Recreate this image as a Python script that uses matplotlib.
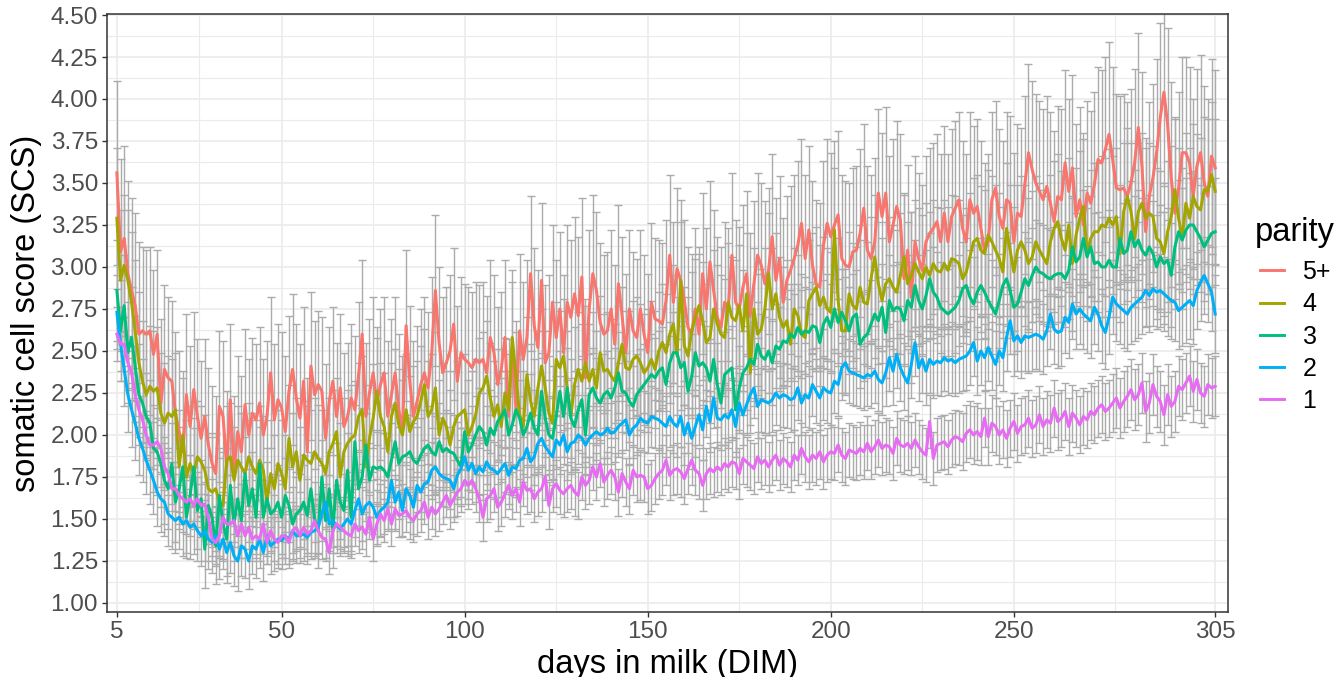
import numpy as np
import matplotlib
matplotlib.use("Agg")
import matplotlib.pyplot as plt
from matplotlib.lines import Line2D

plt.rcParams["font.family"] = ["Liberation Sans", "DejaVu Sans"]

# ---- data (one mean per day, DIM 5..305) ----
days = np.arange(5, 306)
parity = ["5+", "4", "3", "2", "1"]
colors = ["#F8766D", "#A3A500", "#00BF7D", "#00B0F6", "#E76BF3"]

scs_5plus = [
    3.56, 3.09, 3.17, 2.96, 2.86, 2.77, 2.60, 2.62, 2.60, 2.62,
    2.48, 2.60, 2.19, 2.39, 2.34, 2.32, 2.13, 2.02, 1.90, 2.24,
    2.05, 2.27, 2.11, 1.98, 2.11, 1.94, 1.83, 1.77, 2.17, 2.11,
    1.81, 2.21, 1.78, 2.02, 1.90, 2.18, 2.00, 2.13, 2.09, 2.19,
    2.00, 2.11, 2.37, 2.09, 2.21, 2.16, 2.02, 2.26, 2.39, 2.22,
    2.10, 2.32, 1.90, 2.41, 2.24, 2.30, 2.26, 1.98, 2.20, 2.32,
    2.11, 2.28, 2.05, 2.11, 2.22, 2.15, 2.35, 2.60, 2.11, 2.25,
    2.37, 2.19, 2.30, 2.37, 2.11, 2.24, 2.37, 2.15, 2.02, 2.65,
    2.32, 2.11, 2.20, 2.30, 2.37, 2.28, 2.49, 2.86, 2.55, 2.37,
    2.43, 2.50, 2.66, 2.32, 2.49, 2.45, 2.43, 2.40, 2.45, 2.43,
    2.45, 2.37, 2.58, 2.49, 2.30, 2.39, 2.58, 2.11, 2.52, 2.15,
    2.62, 2.45, 2.58, 2.96, 2.65, 2.52, 2.92, 2.43, 2.49, 2.79,
    2.58, 2.75, 2.49, 2.79, 2.70, 2.84, 2.71, 2.94, 2.34, 2.75,
    2.96, 2.86, 2.67, 2.60, 2.62, 2.75, 2.54, 2.90, 2.71, 2.49,
    2.75, 2.62, 2.58, 2.75, 2.60, 2.49, 2.79, 2.69, 2.68, 2.66,
    2.80, 3.07, 2.79,
    2.99, 2.92, 2.80, 2.64, 2.60, 2.75, 2.60, 2.96, 2.75, 3.03,
    2.86, 2.70, 2.64, 2.79, 2.75, 3.07, 2.79, 2.75, 2.88, 2.96,
    2.71, 2.90, 3.07, 3.01, 2.90, 2.98, 3.18, 2.92, 3.05, 2.79,
    2.92, 2.98, 3.05, 3.13, 3.26, 3.05, 3.22, 3.01, 2.90, 2.88,
    3.13, 3.26, 3.18, 3.25, 3.31, 3.05, 3.01, 3.00, 3.09, 3.10,
    3.20, 3.35,
    3.10, 3.05, 3.15, 3.44, 3.30, 3.44, 3.15, 3.25, 3.36, 3.28,
    2.93, 3.10, 2.82, 3.15, 3.05, 2.98, 3.15, 3.20, 3.23, 3.27,
    3.15, 3.32, 3.15, 3.30, 3.35, 3.40, 3.23, 3.15, 3.40, 3.32,
    3.36, 3.23, 3.10, 3.15, 3.40, 3.47, 3.30, 3.23, 3.40, 3.38,
    3.15, 3.32, 3.30, 3.49, 3.68, 3.58, 3.50, 3.45, 3.40, 3.48,
    3.38, 3.27, 3.42,
    3.40, 3.62, 3.45, 3.59, 3.30, 3.40, 3.25, 3.44, 3.38, 3.49,
    3.64, 3.62, 3.70, 3.79, 3.64, 3.47, 3.46, 3.47, 3.42, 3.50,
    3.62, 3.83, 3.60, 3.21, 3.42, 3.53, 3.68, 3.89, 4.04, 3.85,
    3.53, 3.32, 3.47, 3.68, 3.68, 3.62, 3.42, 3.60, 3.68, 3.50,
    3.42, 3.66, 3.59,
]

scs_4 = [
    3.29, 2.92, 3.01, 2.92, 2.79, 2.62, 2.43, 2.32, 2.24, 2.29,
    2.26, 2.28, 2.13, 2.07, 2.13, 2.11, 2.15, 1.81, 2.00, 1.75,
    1.83, 1.77, 1.87, 1.84, 1.79, 1.68, 1.66, 1.68, 1.60, 1.58,
    1.85, 1.87, 1.73, 1.85, 1.81, 1.77, 1.87, 1.81, 1.77, 1.85,
    1.79, 1.60, 1.77, 1.68, 1.83, 1.77, 1.68, 1.98, 1.81, 1.90,
    1.73, 1.88, 1.85, 1.83, 1.90, 1.86, 1.83, 1.77, 1.90, 1.95,
    2.02, 1.75, 1.90, 1.95, 1.98, 2.00, 2.11, 2.15, 1.81, 1.98,
    2.10, 2.26, 2.11, 2.05, 1.90, 2.11, 2.19, 2.06, 2.00, 2.15,
    2.02, 2.08, 2.11, 2.20, 2.30, 2.11, 2.15, 2.28, 2.00, 2.10,
    2.05, 1.94, 2.05, 2.11, 2.13, 2.15, 2.00, 2.05, 2.12, 2.25,
    2.28, 2.35, 2.22, 2.11, 2.18, 2.05, 2.25, 2.15, 2.58, 2.35,
    2.12, 2.05, 2.36, 2.20, 2.11, 2.28, 2.41, 2.28, 2.13, 2.07,
    2.45, 2.40, 2.47, 2.28, 2.11, 2.30, 2.39, 2.32, 2.43, 2.32,
    2.39, 2.28, 2.49, 2.38, 2.39, 2.35, 2.32, 2.43, 2.54, 2.40,
    2.39, 2.45, 2.47, 2.43, 2.37, 2.40, 2.45, 2.39, 2.50, 2.55,
    2.49, 2.60, 2.66,
    2.47, 2.92, 2.53, 2.47, 2.62, 2.70, 2.77, 2.68, 2.55, 2.58,
    2.75, 2.66, 2.60, 2.58, 2.79, 2.70, 2.68, 2.77, 2.62, 2.84,
    2.37, 2.75, 2.60, 2.63, 2.75, 2.96, 2.75, 2.84, 2.70, 2.64,
    2.68, 2.54, 2.75, 2.71, 2.60, 2.58, 2.80, 2.84, 2.88, 2.77,
    2.82, 2.75, 2.73, 3.22, 2.80, 2.62, 2.62, 2.84, 2.77, 2.75,
    2.88, 2.79,
    2.78, 2.93, 3.06, 2.90, 2.80, 2.90, 2.93, 2.88, 2.85, 2.95,
    3.06, 2.90, 2.95, 3.02, 2.97, 2.93, 3.00, 2.95, 3.02, 2.98,
    2.97, 3.02, 2.98, 3.05, 3.04, 3.02, 2.93, 2.97, 3.06, 3.15,
    3.17, 3.10, 3.08, 3.19, 3.15, 3.10, 3.05, 2.97, 3.23, 3.10,
    2.97, 3.10, 3.15, 3.10, 3.02, 3.06, 3.15, 3.10, 3.06, 3.02,
    3.15, 3.23, 3.27,
    3.17, 3.10, 3.25, 3.02, 3.19, 3.29, 3.36, 3.08, 3.17, 3.21,
    3.21, 3.25, 3.24, 3.29, 3.25, 3.30, 3.08, 3.33, 3.42, 3.33,
    3.17, 3.33, 3.38, 3.29, 3.32, 3.30, 3.17, 3.15, 3.08, 3.21,
    3.30, 3.46, 3.29, 3.17, 3.38, 3.29, 3.42, 3.36, 3.34, 3.46,
    3.45, 3.55, 3.45,
]

scs_3 = [
    2.86, 2.62, 2.77, 2.49, 2.58, 2.41, 2.24, 2.19, 2.11, 2.07,
    1.92, 1.90, 1.83, 1.73, 1.68, 1.83, 1.60, 1.68, 1.81, 1.51,
    1.64, 1.81, 1.55, 1.62, 1.32, 1.58, 1.51, 1.34, 1.64, 1.47,
    1.38, 1.70, 1.47, 1.62, 1.49, 1.77, 1.58, 1.68, 1.51, 1.83,
    1.51, 1.62, 1.53, 1.55, 1.60, 1.51, 1.64, 1.58, 1.47, 1.53,
    1.55, 1.60, 1.52, 1.68, 1.50, 1.43, 1.75, 1.49, 1.68, 1.43,
    1.73, 1.60, 1.55, 1.79, 1.51, 1.96, 1.68, 1.75, 1.94, 1.73,
    1.81, 1.80, 1.81, 1.79, 1.75, 1.85, 1.96, 1.83, 1.87, 1.88,
    1.90, 1.85, 1.83, 1.88, 1.92, 1.94, 1.90, 1.88, 1.96, 1.90,
    1.92, 1.90, 1.89, 1.85, 1.81, 2.02, 1.90, 1.94, 2.00, 2.05,
    2.02, 1.94, 2.04, 2.00, 2.08, 2.11, 2.15, 2.00, 2.06, 2.15,
    2.10, 2.00, 2.05, 2.13, 2.04, 2.00, 2.26, 2.10, 2.00, 1.98,
    2.11, 2.26, 2.11, 2.28, 2.10, 2.05, 2.15, 2.21, 2.00, 2.24,
    2.28, 2.22, 2.19, 2.24, 2.26, 2.22, 2.28, 2.37, 2.26, 2.25,
    2.20, 2.17, 2.24, 2.27, 2.30, 2.33, 2.36, 2.34, 2.38, 2.40,
    2.30, 2.43, 2.49,
    2.49, 2.40, 2.43, 2.26, 2.35, 2.49, 2.41, 2.43, 2.40, 2.32,
    2.45, 2.30, 2.19, 2.36, 2.38, 2.40, 2.15, 2.28, 2.37, 2.40,
    2.45, 2.42, 2.54, 2.47, 2.45, 2.50, 2.43, 2.53, 2.51, 2.56,
    2.55, 2.60, 2.58, 2.64, 2.60, 2.62, 2.61, 2.65, 2.64, 2.55,
    2.66, 2.70, 2.64, 2.75, 2.67, 2.73, 2.68, 2.62, 2.70, 2.72,
    2.54, 2.58,
    2.60, 2.66, 2.72, 2.68, 2.76, 2.61, 2.80, 2.74, 2.76, 2.75,
    2.68, 2.80, 2.76, 2.89, 2.80, 2.75, 2.83, 2.93, 2.85, 2.82,
    2.76, 2.74, 2.72, 2.74, 2.76, 2.80, 2.87, 2.89, 2.82, 2.78,
    2.85, 2.89, 2.85, 2.80, 2.76, 2.72, 2.80, 2.89, 2.93, 2.86,
    2.76, 2.78, 2.85, 2.93, 2.89, 2.95, 3.00, 2.97, 2.96, 2.94,
    2.93, 2.95, 2.96,
    2.96, 2.93, 2.98, 3.12, 3.03, 3.06, 3.17, 3.06, 3.12, 3.02,
    3.03, 3.00, 3.00, 3.04, 3.00, 3.00, 3.17, 3.08, 3.10, 3.21,
    3.12, 3.16, 3.10, 3.07, 3.12, 3.08, 3.00, 3.06, 3.02, 3.04,
    2.95, 3.12, 3.21, 3.16, 3.22, 3.25, 3.25, 3.21, 3.17, 3.12,
    3.16, 3.20, 3.21,
]

scs_2 = [
    2.73, 2.54, 2.39, 2.24, 2.15, 2.07, 1.98, 1.92, 1.85, 1.79,
    1.73, 1.66, 1.62, 1.60, 1.53, 1.51, 1.49, 1.51, 1.47, 1.49,
    1.45, 1.47, 1.43, 1.40, 1.43, 1.38, 1.36, 1.40, 1.32, 1.38,
    1.30, 1.36, 1.28, 1.25, 1.34, 1.32, 1.25, 1.34, 1.32, 1.38,
    1.30, 1.40, 1.34, 1.36, 1.38, 1.37, 1.40, 1.38, 1.43, 1.40,
    1.40, 1.41, 1.39, 1.42, 1.43, 1.45, 1.53, 1.60, 1.47, 1.49,
    1.46, 1.44, 1.47, 1.50, 1.47, 1.55, 1.62, 1.53, 1.58, 1.60,
    1.57, 1.51, 1.55, 1.57, 1.60, 1.73, 1.60, 1.66, 1.55, 1.68,
    1.64, 1.57, 1.70, 1.66, 1.71, 1.72, 1.79, 1.81, 1.77, 1.75,
    1.74, 1.73, 1.68, 1.76, 1.80, 1.87, 1.79, 1.83, 1.77, 1.81,
    1.78, 1.84, 1.80, 1.79, 1.77, 1.80, 1.83, 1.76, 1.81, 1.80,
    1.85, 1.86, 1.92, 1.84, 1.87, 1.95, 1.98, 1.93, 1.90, 1.87,
    1.97, 1.94, 2.00, 1.90, 1.95, 1.96, 2.00, 1.98, 1.94, 1.98,
    2.00, 2.02, 2.00, 2.01, 2.04, 2.01, 2.02, 2.05, 2.07, 2.09,
    2.00, 2.04, 2.06, 2.10, 2.08, 2.07, 2.11, 2.10, 2.09, 2.07,
    2.05, 2.11, 2.07,
    2.05, 2.11, 2.00, 2.07, 1.98, 2.05, 2.12, 2.03, 2.17, 2.08,
    2.22, 2.10, 2.09, 2.12, 2.10, 2.15, 2.05, 2.19, 2.12, 2.18,
    2.24, 2.28, 2.17, 2.21, 2.20, 2.19, 2.21, 2.25, 2.22, 2.24,
    2.23, 2.21, 2.22, 2.28, 2.19, 2.24, 2.22, 2.30, 2.26, 2.22,
    2.28, 2.26, 2.25, 2.32, 2.30, 2.40, 2.43, 2.38, 2.37, 2.36,
    2.35, 2.34,
    2.36, 2.35, 2.38, 2.33, 2.31, 2.37, 2.46, 2.38, 2.48, 2.40,
    2.35, 2.31, 2.42, 2.55, 2.40, 2.45, 2.38, 2.45, 2.42, 2.44,
    2.43, 2.46, 2.44, 2.45, 2.43, 2.45, 2.46, 2.47, 2.50, 2.55,
    2.44, 2.50, 2.46, 2.52, 2.47, 2.42, 2.50, 2.46, 2.58, 2.68,
    2.56, 2.59, 2.55, 2.59, 2.58, 2.59, 2.60, 2.59, 2.57, 2.62,
    2.72, 2.63, 2.61,
    2.62, 2.70, 2.67, 2.78, 2.72, 2.75, 2.72, 2.70, 2.68, 2.76,
    2.72, 2.65, 2.61, 2.70, 2.82, 2.78, 2.76, 2.74, 2.72, 2.76,
    2.78, 2.80, 2.82, 2.86, 2.83, 2.87, 2.85, 2.86, 2.84, 2.82,
    2.80, 2.79, 2.74, 2.76, 2.78, 2.80, 2.77, 2.86, 2.91, 2.95,
    2.90, 2.85, 2.72,
]

scs_1 = [
    2.60, 2.54, 2.54, 2.43, 2.37, 2.24, 2.15, 2.09, 2.00, 1.94,
    1.94, 1.96, 1.92, 1.81, 1.77, 1.68, 1.68, 1.64, 1.62, 1.60,
    1.62, 1.58, 1.62, 1.58, 1.59, 1.51, 1.38, 1.36, 1.40, 1.51,
    1.47, 1.47, 1.49, 1.40, 1.47, 1.40, 1.45, 1.38, 1.40, 1.38,
    1.47, 1.36, 1.43, 1.38, 1.36, 1.40, 1.40, 1.36, 1.43, 1.45,
    1.40, 1.45, 1.41, 1.43, 1.49, 1.43, 1.39, 1.38, 1.30, 1.43,
    1.47, 1.45, 1.43, 1.41, 1.40, 1.47, 1.43, 1.45, 1.41, 1.51,
    1.38, 1.47, 1.53, 1.49, 1.56, 1.47, 1.56, 1.52, 1.53, 1.55,
    1.51, 1.49, 1.53, 1.55, 1.60, 1.51, 1.57, 1.53, 1.56, 1.60,
    1.64, 1.58, 1.62, 1.66, 1.68, 1.73, 1.70, 1.73, 1.68, 1.62,
    1.51, 1.62, 1.64, 1.68, 1.57, 1.60, 1.65, 1.70, 1.64, 1.68,
    1.60, 1.72, 1.67, 1.68, 1.62, 1.66, 1.68, 1.75, 1.58, 1.68,
    1.71, 1.67, 1.65, 1.68, 1.70, 1.66, 1.64, 1.75, 1.70, 1.73,
    1.81, 1.75, 1.83, 1.72, 1.76, 1.79, 1.75, 1.66, 1.77, 1.72,
    1.68, 1.79, 1.75, 1.76, 1.75, 1.68, 1.70, 1.74, 1.77, 1.79,
    1.85, 1.76, 1.79,
    1.80, 1.78, 1.74, 1.80, 1.85, 1.79, 1.77, 1.70, 1.77, 1.80,
    1.78, 1.81, 1.79, 1.83, 1.81, 1.84, 1.83, 1.77, 1.86, 1.84,
    1.82, 1.80, 1.87, 1.83, 1.85, 1.81, 1.85, 1.88, 1.82, 1.86,
    1.84, 1.81, 1.88, 1.85, 1.92, 1.87, 1.84, 1.88, 1.86, 1.90,
    1.84, 1.88, 1.90, 1.89, 1.94, 1.88, 1.86, 1.91, 1.90, 1.89,
    1.92, 1.90,
    1.95, 1.90, 1.93, 1.97, 1.92, 1.94, 1.93, 1.89, 1.98, 1.94,
    1.93, 1.95, 1.92, 1.97, 1.93, 1.90, 1.88, 2.08, 1.86, 1.94,
    1.95, 1.96, 1.93, 1.97, 1.99, 1.98, 1.96, 2.01, 2.03, 2.00,
    2.02, 1.99, 2.10, 1.99, 2.07, 2.05, 2.00, 2.03, 1.98, 2.04,
    2.08, 2.01, 2.05, 2.06, 2.10, 2.04, 2.06, 2.12, 2.05, 2.09,
    2.07, 2.16, 2.08,
    2.10, 2.14, 2.05, 2.13, 2.10, 2.06, 2.11, 2.09, 2.14, 2.12,
    2.16, 2.18, 2.14, 2.16, 2.19, 2.22, 2.16, 2.20, 2.23, 2.27,
    2.21, 2.24, 2.31, 2.14, 2.19, 2.30, 2.23, 2.20, 2.12, 2.24,
    2.17, 2.20, 2.29, 2.27, 2.31, 2.35, 2.26, 2.33, 2.25, 2.23,
    2.30, 2.28, 2.29,
]

# error-bar half widths, one estimate per week (7 days, 43 weeks)
err_5plus = [0.55, 0.50, 0.48, 0.46, 0.45, 0.45, 0.45, 0.44, 0.44, 0.44, 0.45, 0.45, 0.45,
             0.45, 0.46, 0.46, 0.46, 0.46, 0.47, 0.47, 0.47, 0.48, 0.48, 0.48, 0.49, 0.49,
             0.50, 0.50, 0.50, 0.50, 0.51, 0.51, 0.52, 0.52, 0.52, 0.53, 0.54, 0.55, 0.55,
             0.56, 0.56, 0.57, 0.58]
err_4 = [0.42, 0.36, 0.34, 0.33, 0.32, 0.32, 0.32, 0.32, 0.32, 0.32, 0.32, 0.33, 0.33,
         0.33, 0.33, 0.33, 0.34, 0.34, 0.34, 0.34, 0.35, 0.35, 0.35, 0.35, 0.36, 0.36,
         0.36, 0.36, 0.37, 0.37, 0.37, 0.38, 0.38, 0.38, 0.39, 0.39, 0.40, 0.40, 0.41,
         0.41, 0.42, 0.42, 0.43]
err_3 = [0.30, 0.26, 0.24, 0.23, 0.22, 0.22, 0.22, 0.22, 0.22, 0.22, 0.22, 0.22, 0.23,
         0.23, 0.23, 0.23, 0.23, 0.24, 0.24, 0.24, 0.24, 0.24, 0.25, 0.25, 0.25, 0.25,
         0.26, 0.26, 0.26, 0.26, 0.27, 0.27, 0.27, 0.28, 0.28, 0.28, 0.29, 0.29, 0.30,
         0.30, 0.31, 0.31, 0.32]
err_2 = [0.22, 0.20, 0.19, 0.18, 0.18, 0.17, 0.17, 0.16, 0.16, 0.16, 0.16, 0.16, 0.17,
         0.17, 0.17, 0.17, 0.17, 0.17, 0.17, 0.18, 0.18, 0.18, 0.18, 0.18, 0.18, 0.19,
         0.19, 0.19, 0.19, 0.19, 0.20, 0.20, 0.20, 0.20, 0.20, 0.21, 0.21, 0.21, 0.22,
         0.22, 0.22, 0.23, 0.23]
err_1 = [0.16, 0.14, 0.13, 0.13, 0.13, 0.13, 0.13, 0.13, 0.13, 0.13, 0.13, 0.13, 0.13,
         0.14, 0.14, 0.14, 0.14, 0.14, 0.14, 0.14, 0.15, 0.15, 0.15, 0.15, 0.15, 0.15,
         0.15, 0.16, 0.16, 0.16, 0.16, 0.16, 0.16, 0.17, 0.17, 0.17, 0.17, 0.17, 0.17,
         0.18, 0.18, 0.18, 0.18]

means = [scs_5plus, scs_4, scs_3, scs_2, scs_1]
errs = [err_5plus, err_4, err_3, err_2, err_1]
for m, e in zip(means, errs):
    assert len(m) == len(days), len(m)
    assert len(e) * 7 == len(days), len(e)

# ---- figure ----
W, H = 1338, 677
fig = plt.figure(figsize=(W / 100, H / 100), dpi=100)
ax = fig.add_axes([107 / W, 1 - 612 / H, (1228 - 107) / W, (612 - 14) / H])

# error bars first (grey), lines on top
for m, e in zip(means, errs):
    ax.errorbar(days, m, yerr=np.repeat(e, 7), fmt="none", ecolor="#ABABAB",
                elinewidth=1.0, capsize=2.7, capthick=1.0, zorder=2)
for m, c in zip(means, colors):
    ax.plot(days, m, color=c, lw=2.2, zorder=3)

ax.set_xlim(2.3, 308.5)
ax.set_ylim(0.946, 4.506)
ax.set_xticks([5, 50, 100, 150, 200, 250, 305])
ax.set_xticks([27.5, 75, 125, 175, 225, 277.5], minor=True)
yt = np.arange(1.0, 4.51, 0.25)
ax.set_yticks(yt)
ax.set_yticklabels([f"{v:.2f}" for v in yt])
ax.set_yticks(yt[:-1] + 0.125, minor=True)

ax.set_axisbelow(True)
ax.grid(which="major", color="#EBEBEB", lw=1.2)
ax.grid(which="minor", color="#EBEBEB", lw=0.8)
for s in ax.spines.values():
    s.set_color("#333333")
    s.set_linewidth(1.1)
ax.tick_params(which="major", length=3.5, width=1, color="#333333",
               labelsize=17.5, labelcolor="#4D4D4D", pad=3)
ax.tick_params(which="minor", length=0)

ax.set_xlabel("days in milk (DIM)", fontsize=23.5, labelpad=4)
ax.set_ylabel("somatic cell score (SCS)", fontsize=23.5, labelpad=6)

# legend: title as its own text, keys below it
fig.text(1255 / W, 1 - 232 / H, "parity", fontsize=23.5, ha="left", va="center")
handles = [Line2D([0], [0], color=c, lw=2.1) for c in colors]
ax.legend(handles, parity, loc="upper left",
          bbox_to_anchor=(1260 / W, 1 - 260 / H), bbox_transform=fig.transFigure,
          frameon=False, fontsize=18, handlelength=0.95,
          handletextpad=0.75, labelspacing=0.33,
          borderaxespad=0, borderpad=0)

fig.savefig("out.png", dpi=100)
